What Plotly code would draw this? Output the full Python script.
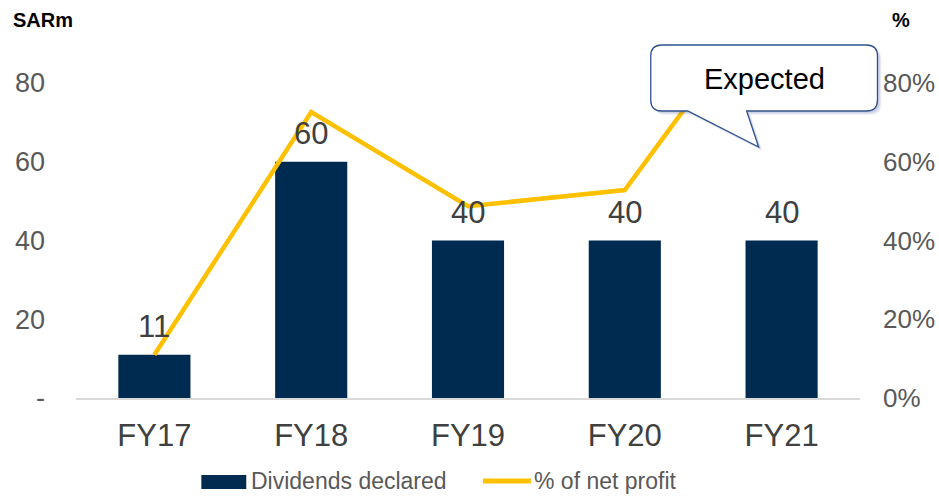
import plotly.graph_objects as go

categories = ["FY17", "FY18", "FY19", "FY20", "FY21"]
dividends = [11, 60, 40, 40, 40]
pct_net_profit = [0.11, 0.726, 0.487, 0.528, 1.07]
left_ticks = [0, 20, 40, 60, 80]
left_ticktext = ["-", "20", "40", "60", "80"]
right_ticks = [0, 0.2, 0.4, 0.6, 0.8]
legend_names = ["Dividends declared", "% of net profit"]

W, H = 939, 496
ML, MR, MT, MB = 75.5, 78.5, 83, 98
PW, PH = W - ML - MR, H - MT - MB

def px2paper(x, y):
    return (x - ML) / PW, (H - MB - y) / PH

NAVY = "#002B51"
GOLD = "#FFC000"
FONT = "Liberation Sans, Arial, sans-serif"

fig = go.Figure()
fig.add_trace(go.Bar(
    x=categories, y=dividends, name=legend_names[0],
    marker=dict(color=NAVY, line=dict(width=0)), width=0.46, showlegend=False,
))
fig.add_trace(go.Scatter(
    x=categories, y=pct_net_profit, name=legend_names[1], yaxis="y2",
    mode="lines", line=dict(color=GOLD, width=4.5), showlegend=False,
))

# data labels above bars
for c, v in zip(categories, dividends):
    fig.add_annotation(x=c, y=v, xref="x", yref="y", text=str(v), showarrow=False,
                       xanchor="center", yanchor="bottom", yshift=9,
                       font=dict(size=31, color="#404040", family=FONT))

# callout bubble (rounded rect with tail)
def callout_path(x0, y0, x1, y1, r, t0, t1, tip):
    def P(x, y):
        a, b = px2paper(x, y)
        return f"{a:.5f},{b:.5f}"
    d = f"M {P(x0 + r, y0)} L {P(x1 - r, y0)} Q {P(x1, y0)} {P(x1, y0 + r)} "
    d += f"L {P(x1, y1 - r)} Q {P(x1, y1)} {P(x1 - r, y1)} "
    d += f"L {P(t1, y1)} L {P(*tip)} L {P(t0, y1)} "
    d += f"L {P(x0 + r, y1)} Q {P(x0, y1)} {P(x0, y1 - r)} "
    d += f"L {P(x0, y0 + r)} Q {P(x0, y0)} {P(x0 + r, y0)} Z"
    return d

for k, op in [(4, 0.08), (3, 0.1), (2, 0.12)]:
    sh = callout_path(651 + k, 45 + k, 878 + k, 111 + k, 11, 688 + k, 747 + k, (759 + k, 147 + k))
    fig.add_shape(type="path", path=sh, xref="paper", yref="paper",
                  fillcolor=f"rgba(70,90,160,{op})", line=dict(width=0), layer="above")
bubble = callout_path(651, 45, 878, 111, 11, 688, 747, (759, 147))
fig.add_shape(type="path", path=bubble, xref="paper", yref="paper",
              fillcolor="white", line=dict(color="#2F528F", width=1.3), layer="above")
cx, cy = px2paper(765, 79)
fig.add_annotation(x=cx, y=cy, xref="paper", yref="paper", text="Expected",
                   showarrow=False, xanchor="center", yanchor="middle",
                   font=dict(size=29, color="#000000", family=FONT))

sx, sy = px2paper(10, 20)
fig.add_annotation(x=sx, y=sy, xref="paper", yref="paper", text="<b>SARm</b>",
                   showarrow=False, xanchor="left", yanchor="middle",
                   font=dict(size=20, color="#000000", family=FONT))
px_, py_ = px2paper(902, 20)
fig.add_annotation(x=px_, y=py_, xref="paper", yref="paper", text="<b>%</b>",
                   showarrow=False, xanchor="center", yanchor="middle",
                   font=dict(size=20, color="#000000", family=FONT))

# custom legend
lx0, ly0 = px2paper(201, 475)
lx1, ly1 = px2paper(246, 489)
fig.add_shape(type="rect", x0=lx0, y0=ly0, x1=lx1, y1=ly1, xref="paper", yref="paper",
              fillcolor=NAVY, line=dict(width=0))
tx, ty = px2paper(249, 481)
fig.add_annotation(x=tx, y=ty, xref="paper", yref="paper", text=legend_names[0],
                   showarrow=False, xanchor="left", yanchor="middle",
                   font=dict(size=23, color="#595959", family=FONT))
ax0, ay = px2paper(483, 481)
ax1, _ = px2paper(531, 481)
fig.add_shape(type="line", x0=ax0, y0=ay, x1=ax1, y1=ay, xref="paper", yref="paper",
              line=dict(color=GOLD, width=5))
tx2, _ = px2paper(532, 481)
fig.add_annotation(x=tx2, y=ay, xref="paper", yref="paper", text=legend_names[1],
                   showarrow=False, xanchor="left", yanchor="middle",
                   font=dict(size=23, color="#595959", family=FONT))

fig.update_layout(
    width=W, height=H,
    margin=dict(l=ML, r=MR, t=MT, b=MB, pad=0, autoexpand=False),
    plot_bgcolor="white", paper_bgcolor="white",
    font=dict(family=FONT),
    showlegend=False,
    xaxis=dict(showgrid=False, showline=True, linecolor="#D9D9D9", linewidth=1.5,
               ticks="", tickfont=dict(size=31, color="#404040", family=FONT),
               ticklabelstandoff=9, fixedrange=True, automargin=False),
    yaxis=dict(range=[0, 80], tickvals=left_ticks, ticktext=left_ticktext,
               showgrid=False, zeroline=False, showline=False, ticks="",
               tickfont=dict(size=27, color="#595959", family=FONT),
               ticklabelstandoff=30, automargin=False),
    yaxis2=dict(range=[0, 0.8], tickvals=right_ticks, tickformat=".0%",
                overlaying="y", side="right", showgrid=False, zeroline=False,
                showline=False, ticks="",
                tickfont=dict(size=26, color="#595959", family=FONT),
                ticklabelstandoff=22, automargin=False),
)

fig.write_html("out.html", config={"displayModeBar": False},
               post_script="document.body.style.margin='0';document.body.style.padding='0';")
